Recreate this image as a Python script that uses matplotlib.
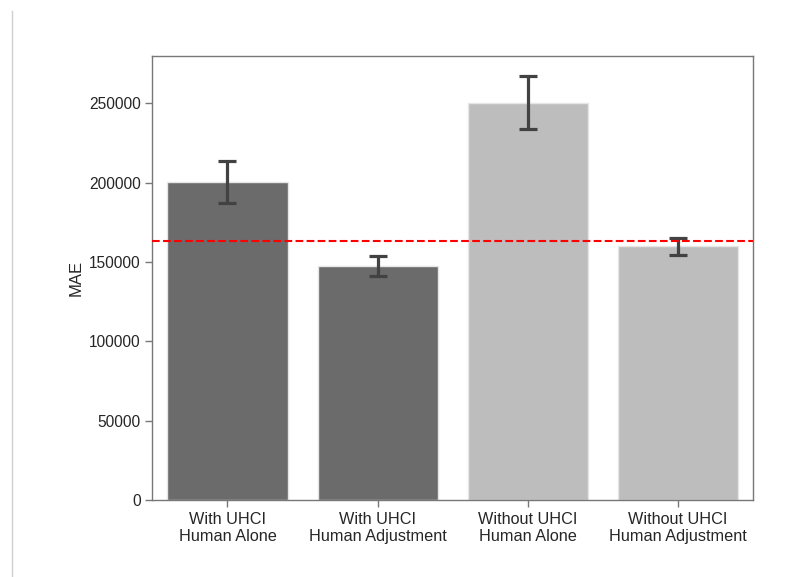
import matplotlib
matplotlib.use("Agg")
import matplotlib.pyplot as plt
from matplotlib.lines import Line2D
import numpy as np

plt.rcParams['font.family'] = ['Liberation Sans', 'DejaVu Sans']

categories = ["With UHCI\nHuman Alone", "With UHCI\nHuman Adjustment",
              "Without UHCI\nHuman Alone", "Without UHCI\nHuman Adjustment"]
mae = [200500, 147400, 250500, 159800]
err = [13000, 6200, 16800, 5150]
bar_colors = ["#6b6b6b", "#6b6b6b", "#bdbdbd", "#bdbdbd"]
baseline = 163000

fig = plt.figure(figsize=(8.02, 5.77), dpi=100)
ax = fig.add_axes([0.190, 0.1334, 0.749, 0.770])

x = np.arange(len(categories))
ax.bar(x, mae, width=0.8, color=bar_colors, edgecolor="#e6e6e6", linewidth=1.0, zorder=2)
eb = ax.errorbar(x, mae, yerr=err, fmt="none", ecolor="#424242", elinewidth=2.3,
                 capsize=6.4, capthick=2.3, zorder=3)
for cap in eb[1]:
    cap.set_solid_capstyle("round")
for col in eb[2]:
    col.set_capstyle("round")
ax.axhline(baseline, color="#ff0000", linestyle="--", linewidth=1.5, zorder=4)

ax.set_xlim(-0.5, 3.5)
ax.set_ylim(0, 280000)
ax.set_yticks([0, 50000, 100000, 150000, 200000, 250000])
ax.set_xticks(x)
ax.set_xticklabels(categories, fontsize=11.7)
ax.set_ylabel("MAE", fontsize=12, color="#262626")
ax.tick_params(axis="y", labelsize=11.2)
ax.tick_params(axis="both", labelcolor="#262626", length=5, width=1.0, color="#777777")
for s in ax.spines.values():
    s.set_color("#777777")
    s.set_linewidth(1.0)

fig.add_artist(Line2D([11.5 / 802, 11.5 / 802], [0, 1 - 11 / 577],
                      transform=fig.transFigure, color="#d0d0d0", linewidth=1.0))

fig.savefig("out.png", dpi=100)
